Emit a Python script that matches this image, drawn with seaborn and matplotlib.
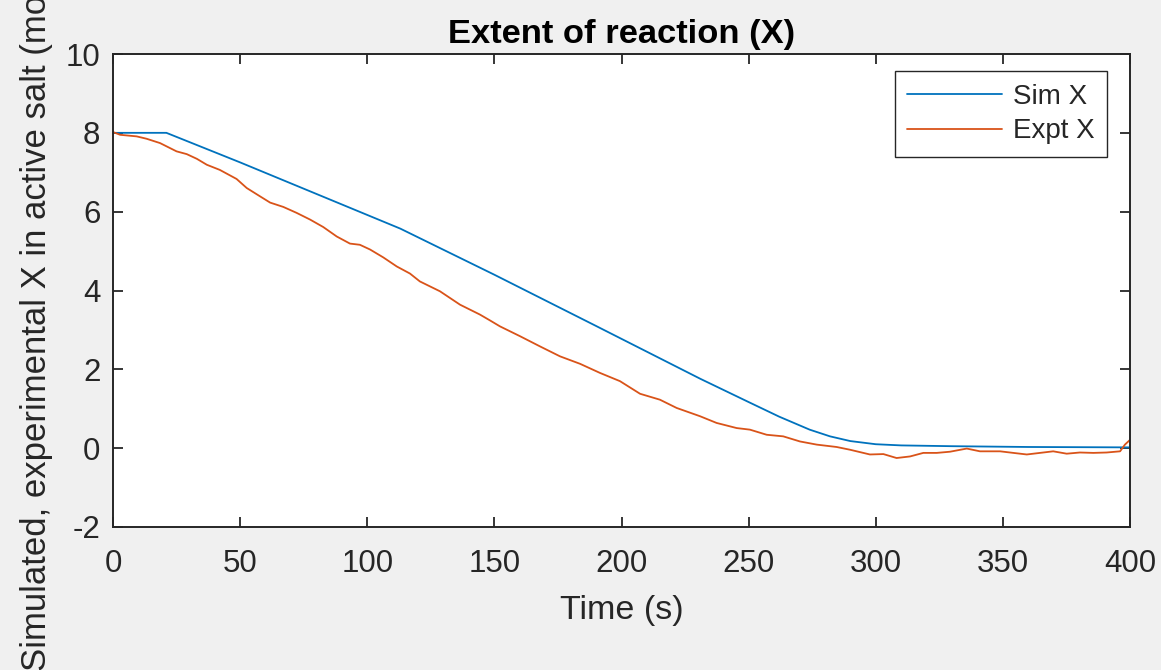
import numpy as np
import pandas as pd
import matplotlib
matplotlib.use("Agg")
import matplotlib.pyplot as plt
import seaborn as sns

# ---- data ----
sim_t = [0, 21, 50, 80, 113, 150, 190, 231, 250, 262, 274, 282, 290, 300, 310, 330, 360, 400]
sim_x = [8.0, 8.0, 7.25, 6.45, 5.57, 4.40, 3.10, 1.76, 1.17, 0.80, 0.47, 0.30, 0.18, 0.10, 0.07, 0.05, 0.03, 0.02]

expt_t = [0, 2.8, 9.3, 13.2, 18.5, 25, 29, 33, 36.9, 42, 48.6, 52.6, 57.8, 61.8, 67, 72.2, 77.5,
          82.7, 88, 93.2, 97.1, 101.1, 106.3, 111.6, 116.8, 120.7, 128.6, 136.5, 144.3, 148.3,
          152.2, 160.1, 168, 175.8, 183.7, 191.5, 199.4, 207.3, 215.1, 221.7, 230.9, 237.4,
          245.3, 250.5, 257.1, 263.6, 270.2, 276.8, 284.6, 289.9, 297.7, 303, 308.2, 313.5,
          318.7, 324, 329.2, 335.8, 341, 348.9, 354.1, 359.4, 364.6, 369.8, 375.1, 380.3,
          385.6, 390.8, 396.1, 398, 400]
expt_x = [8.02, 7.95, 7.91, 7.85, 7.74, 7.53, 7.46, 7.34, 7.19, 7.06, 6.83, 6.60, 6.39, 6.23, 6.12,
          5.97, 5.80, 5.61, 5.37, 5.19, 5.16, 5.04, 4.84, 4.61, 4.43, 4.23, 3.98, 3.64, 3.39, 3.24,
          3.09, 2.84, 2.58, 2.33, 2.14, 1.91, 1.70, 1.38, 1.23, 1.02, 0.81, 0.64, 0.51, 0.47, 0.34,
          0.30, 0.17, 0.09, 0.03, -0.04, -0.16, -0.15, -0.25, -0.21, -0.12, -0.12, -0.09, -0.01,
          -0.08, -0.08, -0.12, -0.16, -0.12, -0.08, -0.14, -0.11, -0.12, -0.11, -0.08, 0.09, 0.21]

x_ticks = [0, 50, 100, 150, 200, 250, 300, 350, 400]
y_ticks = [-2, 0, 2, 4, 6, 8, 10]

title = "Extent of reaction (X)"
xlabel = "Time (s)"
ylabel = "Simulated, experimental X in active salt (mol/mol)"

sim_df = pd.DataFrame({"t": sim_t, "x": sim_x})
expt_df = pd.DataFrame({"t": expt_t, "x": expt_x})

sns.set_theme(style="white")
plt.rcParams["font.family"] = ["Liberation Sans", "DejaVu Sans"]
plt.rcParams["axes.unicode_minus"] = False

fig = plt.figure(figsize=(11.61, 6.70), dpi=100, facecolor="#F0F0F0")
ax = fig.add_axes([113 / 1161, 1 - 527 / 670, (1130 - 113) / 1161, (527 - 54) / 670])
ax.set_facecolor("white")

sns.lineplot(data=sim_df, x="t", y="x", ax=ax, color="#0072BD", linewidth=1.3, label="Sim X")
sns.lineplot(data=expt_df, x="t", y="x", ax=ax, color="#D95319", linewidth=1.3, label="Expt X")

ax.set_xlim(0, 400)
ax.set_ylim(-2, 10)
ax.set_xticks(x_ticks)
ax.set_yticks(y_ticks)
dark = "#262626"
for s in ax.spines.values():
    s.set_visible(True)
    s.set_color(dark)
    s.set_linewidth(1.4)
ax.tick_params(axis="both", which="major", direction="in", length=7, width=1.3,
               colors=dark, labelsize=22.5, top=True, right=True,
               bottom=True, left=True)
ax.tick_params(axis="x", pad=16)
ax.tick_params(axis="y", pad=9)

ax.set_title(title, fontsize=24.8, fontweight="bold", color="black", pad=8)
ax.set_xlabel(xlabel, fontsize=24.5, color=dark, labelpad=11)
ax.set_ylabel(ylabel, fontsize=25, color=dark)
ax.yaxis.set_label_coords(-0.059, 0.5)

leg = ax.legend(loc="upper right", bbox_to_anchor=(1 - 23 / 1017, 1 - 17 / 473),
                borderaxespad=0, fontsize=20, frameon=True, fancybox=False,
                edgecolor=dark, framealpha=1, handlelength=3.4, handletextpad=0.4,
                borderpad=0.45, labelspacing=0.32)
leg.get_frame().set_linewidth(1.0)
for line in leg.get_lines():
    line.set_linewidth(1.3)

fig.savefig("out.png", dpi=100, facecolor=fig.get_facecolor())
